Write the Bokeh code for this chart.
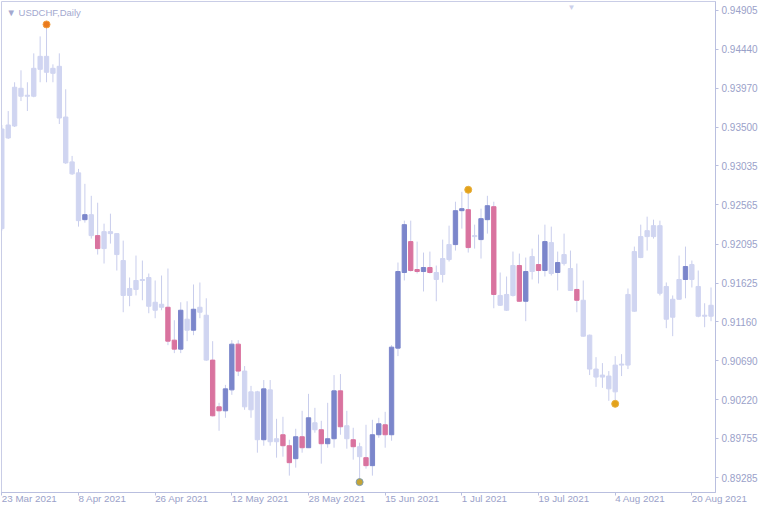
import numpy as np
from bokeh.plotting import figure
from bokeh.models import Range1d, FixedTicker, PrintfTickFormatter, Label
from bokeh.embed import file_html
from bokeh.resources import INLINE

# ---- data (USDCHF daily) ----
opens = [0.92280, 0.93371, 0.93515, 0.93969, 0.93873, 0.93873, 0.94197, 0.94353, 0.94149, 0.94233,
         0.93623, 0.93083, 0.92951, 0.92388, 0.92448, 0.92196, 0.92040, 0.92244, 0.92220, 0.91896,
         0.91476, 0.91548, 0.91656, 0.91692, 0.91298, 0.91370, 0.91334, 0.90938, 0.90830, 0.91190,
         0.91058, 0.91334, 0.91238, 0.90698, 0.90136, 0.90088, 0.90340, 0.90890, 0.90566, 0.90100,
         0.90316, 0.89740, 0.90340, 0.89716, 0.89800, 0.89668, 0.89512, 0.89776, 0.89644, 0.89944,
         0.89860, 0.89692, 0.89752, 0.90328, 0.89908, 0.89740, 0.89656, 0.89524, 0.89428, 0.89800,
         0.89920, 0.89800, 0.90842, 0.91752, 0.92124, 0.91788, 0.91764, 0.91812, 0.91752, 0.91728,
         0.91908, 0.92088, 0.92496, 0.92508, 0.92184, 0.92148, 0.92388, 0.92544, 0.91476, 0.91298,
         0.91476, 0.91836, 0.91406, 0.91764, 0.91848, 0.91776, 0.92112, 0.91752, 0.91860, 0.91800,
         0.91548, 0.91418, 0.90998, 0.90590, 0.90494, 0.90506, 0.90316, 0.90638, 0.90638, 0.91286,
         0.91932, 0.92184, 0.92184, 0.92316, 0.91584, 0.91214, 0.91430, 0.91668, 0.91848, 0.91584,
         0.91238, 0.91226]
highs = [0.93527, 0.93695, 0.94041, 0.94185, 0.94041, 0.94389, 0.94593, 0.94701, 0.94257, 0.94389,
         0.93957, 0.93155, 0.92999, 0.92819, 0.92675, 0.92592, 0.92340, 0.92460, 0.92225, 0.92136,
         0.91692, 0.91956, 0.91896, 0.91740, 0.91656, 0.91716, 0.91800, 0.91178, 0.91394, 0.91406,
         0.91608, 0.91632, 0.91442, 0.90926, 0.90184, 0.90400, 0.90938, 0.90938, 0.90626, 0.90388,
         0.90328, 0.90458, 0.90458, 0.89992, 0.90016, 0.89740, 0.89872, 0.90088, 0.90292, 0.90124,
         0.89968, 0.90184, 0.90518, 0.90530, 0.90088, 0.89884, 0.89704, 0.89920, 0.89980, 0.90004,
         0.90076, 0.90878, 0.91872, 0.92376, 0.92376, 0.92124, 0.91992, 0.92004, 0.91836, 0.92148,
         0.92316, 0.92604, 0.92723, 0.92723, 0.92328, 0.92520, 0.92675, 0.92604, 0.91752, 0.91704,
         0.92004, 0.91980, 0.91932, 0.92040, 0.92208, 0.92328, 0.92304, 0.92004, 0.92220, 0.92016,
         0.91860, 0.91656, 0.91005, 0.90734, 0.90662, 0.90566, 0.90746, 0.90770, 0.91560, 0.92064,
         0.92328, 0.92424, 0.92388, 0.92376, 0.91632, 0.91476, 0.91956, 0.92064, 0.91896, 0.91776,
         0.91382, 0.91572]
lows = [0.92256, 0.93359, 0.93503, 0.93815, 0.93695, 0.93861, 0.94041, 0.94041, 0.94041, 0.93539,
        0.93059, 0.92927, 0.92304, 0.92352, 0.92160, 0.91968, 0.91860, 0.92100, 0.91776, 0.91274,
        0.91346, 0.91476, 0.91418, 0.91262, 0.91202, 0.91298, 0.90878, 0.90782, 0.90782, 0.90926,
        0.90998, 0.91202, 0.90690, 0.90020, 0.89848, 0.90004, 0.90280, 0.90506, 0.90100, 0.90004,
        0.89584, 0.89668, 0.89668, 0.89524, 0.89536, 0.89308, 0.89404, 0.89584, 0.89640, 0.89824,
        0.89452, 0.89644, 0.89644, 0.89800, 0.89632, 0.89500, 0.89260, 0.89392, 0.89308, 0.89764,
        0.89644, 0.89728, 0.90746, 0.91656, 0.91764, 0.91740, 0.91524, 0.91740, 0.91406, 0.91632,
        0.91884, 0.92016, 0.92280, 0.91992, 0.92040, 0.91920, 0.92220, 0.91322, 0.91350, 0.91290,
        0.91464, 0.91400, 0.91166, 0.91668, 0.91620, 0.91704, 0.91716, 0.91536, 0.91836, 0.91530,
        0.91274, 0.90980, 0.90518, 0.90376, 0.90364, 0.90208, 0.90208, 0.90506, 0.90590, 0.91280,
        0.91925, 0.92016, 0.92160, 0.91476, 0.91082, 0.90986, 0.91425, 0.91442, 0.91572, 0.91214,
        0.91094, 0.91166]
closes = [0.93479, 0.93527, 0.93981, 0.93873, 0.93885, 0.94209, 0.94353, 0.94161, 0.94209, 0.93611,
          0.93071, 0.92939, 0.92376, 0.92448, 0.92196, 0.92040, 0.92244, 0.92220, 0.91968, 0.91476,
          0.91560, 0.91656, 0.91668, 0.91346, 0.91394, 0.91334, 0.90926, 0.90830, 0.91298, 0.91058,
          0.91310, 0.91274, 0.90698, 0.90028, 0.90088, 0.90352, 0.90890, 0.90566, 0.90136, 0.90316,
          0.89740, 0.90352, 0.89716, 0.89752, 0.89668, 0.89464, 0.89776, 0.89644, 0.90004, 0.89860,
          0.89692, 0.89752, 0.90328, 0.89896, 0.89752, 0.89656, 0.89536, 0.89428, 0.89800, 0.89932,
          0.89800, 0.90854, 0.91764, 0.92328, 0.91776, 0.91764, 0.91812, 0.91752, 0.91668, 0.91920,
          0.92088, 0.92496, 0.92520, 0.92052, 0.92196, 0.92400, 0.92556, 0.91488, 0.91358, 0.91488,
          0.91836, 0.91406, 0.91764, 0.91944, 0.91776, 0.92124, 0.91740, 0.91872, 0.91968, 0.91536,
          0.91418, 0.90986, 0.90590, 0.90494, 0.90518, 0.90352, 0.90638, 0.90650, 0.91488, 0.92004,
          0.92184, 0.92256, 0.92316, 0.91502, 0.91190, 0.91430, 0.91668, 0.91824, 0.91668, 0.91226,
          0.91226, 0.91358]

# highlighted candles (bullish = blue, bearish = pink)
blue_idx = [13, 28, 30, 35, 36, 41, 46, 48, 51, 52, 58, 59, 61, 62, 63, 66, 71, 72, 75, 76, 82, 85, 87, 107]
pink_idx = [15, 26, 27, 33, 34, 37, 44, 45, 47, 50, 53, 55, 57, 60, 64, 65, 67, 73, 77, 81, 84, 90]

# swing point markers
mark_idx = [7, 56, 73, 96]
mark_price = [0.94737, 0.89230, 0.92748, 0.90172]

tick_idx = [0, 12, 24, 36, 48, 60, 72, 84, 96, 108]
tick_labels = ["23 Mar 2021", "8 Apr 2021", "26 Apr 2021", "12 May 2021", "28 May 2021",
               "15 Jun 2021", "1 Jul 2021", "19 Jul 2021", "4 Aug 2021", "20 Aug 2021"]
price_ticks = [0.89285, 0.89755, 0.90220, 0.90690, 0.91160, 0.91625, 0.92095,
               0.92565, 0.93035, 0.93500, 0.93970, 0.94440, 0.94905]

# ---- styles ----
LAV = "#d0d5f1"
BLUE = "#7b86cb"
PINK = "#d9739f"
WICK = "#c8cdec"
AXIS = "#b9bfdf"
TXT = "#9aa1c9"
FONT = "Liberation Sans"

n = len(opens)
idx = np.arange(n)
o = np.array(opens); c = np.array(closes)
tops = np.maximum(o, c)
bots = np.minimum(o, c)
colors = [LAV] * n
for i in blue_idx:
    colors[i] = BLUE
for i in pink_idx:
    colors[i] = PINK

Y0, Y1 = 0.89105, 0.95013
p = figure(width=760, height=512, output_backend="svg", toolbar_location=None,
           x_range=Range1d(-0.05, 111.7), y_range=Range1d(Y0, Y1),
           y_axis_location="right", min_border_left=1, min_border_top=1,
           min_border_right=42, min_border_bottom=14)
p.grid.visible = False
p.outline_line_color = "#c9cde6"
p.background_fill_color = "white"
p.border_fill_color = "white"

p.segment(x0=idx, y0=lows, x1=idx, y1=highs, line_color=WICK, line_width=1)
p.vbar(x=idx, top=tops, bottom=bots, width=0.68, fill_color=colors, line_color=colors, line_width=1)

p.scatter(x=mark_idx, y=mark_price, size=7,
          fill_color=["#ea7a1e", "#c4a436", "#e3a21a", "#e3a21a"],
          line_color=["#f2a040", "#7f9fb3", "#e8b040", "#e8b040"], line_width=1)

xa = p.xaxis[0]
xa.ticker = FixedTicker(ticks=tick_idx)
xa.major_label_overrides = {t: lab for t, lab in zip(tick_idx, tick_labels)}
# a tiny negative angle makes Bokeh anchor each date label at its left end (on the tick)
xa.major_label_orientation = -0.00001
xa.major_label_standoff = 3
ya = p.yaxis[0]
ya.ticker = FixedTicker(ticks=price_ticks)
ya.formatter = PrintfTickFormatter(format="%.5f")
ya.major_label_standoff = 3
for ax in (xa, ya):
    ax.axis_line_color = AXIS
    ax.major_tick_line_color = AXIS
    ax.minor_tick_line_color = None
    ax.major_tick_in = 0
    ax.major_tick_out = 3
    ax.major_label_text_color = TXT
    ax.major_label_text_font = FONT
xa.major_label_text_font_size = "9.8px"
ya.major_label_text_font_size = "10px"

p.add_layout(Label(x=-0.05, y=Y1, x_offset=5, y_offset=-5, text="\u25BC USDCHF,Daily",
                   text_font=FONT, text_font_size="9.5px", text_color="#a3a9cf", text_baseline="top"))
p.add_layout(Label(x=-0.05, y=Y1, x_offset=570, y_offset=-1, text="\u25BC",
                   text_font=FONT, text_font_size="8px", text_color="#ccd0ea", text_baseline="top",
                   text_align="center"))

open("out.html", "w").write(file_html(p, INLINE))
